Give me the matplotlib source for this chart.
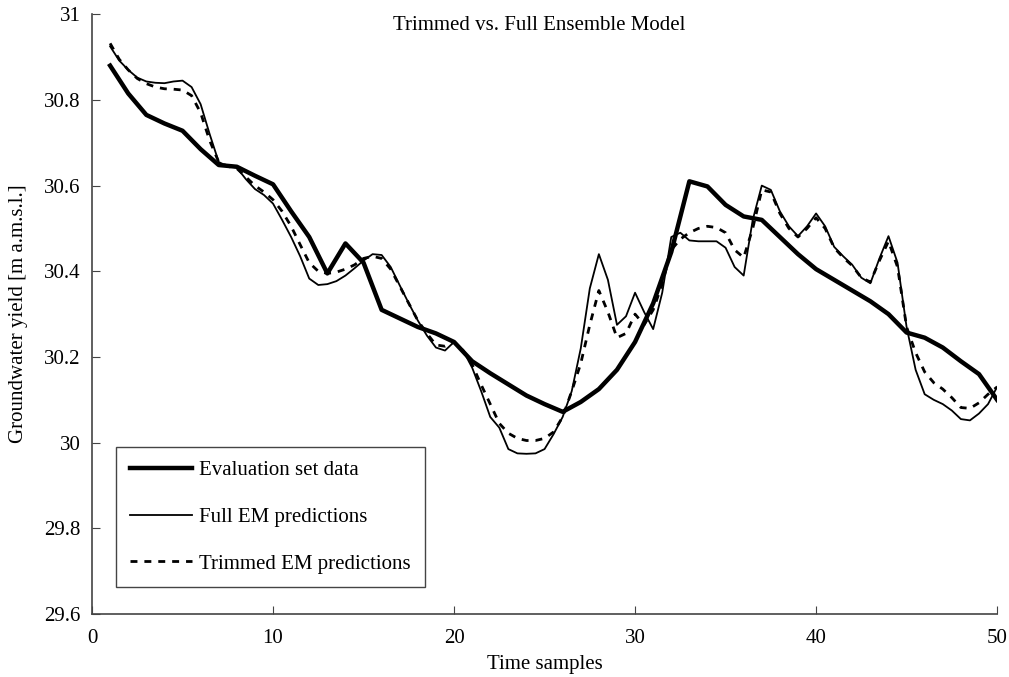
import numpy as np
import matplotlib.pyplot as plt
from matplotlib.ticker import FuncFormatter

plt.rcParams['font.family'] = 'Liberation Serif'

# evaluation set data, one value per time sample
eval_x = list(range(1, 51))
eval_y = [30.88, 30.815, 30.765, 30.745, 30.728, 30.685, 30.648, 30.644, 30.623, 30.603,
          30.54, 30.48, 30.395, 30.465, 30.42, 30.31, 30.29, 30.27, 30.255, 30.235,
          30.19, 30.162, 30.136, 30.11, 30.09, 30.072, 30.095, 30.125, 30.17, 30.235,
          30.325, 30.445, 30.61, 30.598, 30.555, 30.528, 30.52, 30.48, 30.44, 30.405,
          30.38, 30.355, 30.33, 30.30, 30.257, 30.245, 30.222, 30.19, 30.16, 30.10]

# model predictions read at half-sample steps
pred_x = [1 + 0.5 * i for i in range(99)]
full_y = [30.925, 30.892, 30.87, 30.852, 30.843, 30.840, 30.839, 30.843, 30.845, 30.83,
          30.79, 30.72, 30.655, 30.645, 30.642, 30.615, 30.592, 30.578, 30.558, 30.52,
          30.48, 30.435, 30.383, 30.368, 30.37, 30.377, 30.39, 30.407, 30.425, 30.44,
          30.438, 30.41, 30.367, 30.325, 30.285, 30.25, 30.222, 30.215, 30.235, 30.215,
          30.175, 30.12, 30.06, 30.035, 29.985, 29.975, 29.974, 29.975, 29.985, 30.02,
          30.06, 30.12, 30.22, 30.36, 30.44, 30.38, 30.275, 30.295, 30.35, 30.305,
          30.265, 30.35, 30.48, 30.49, 30.472, 30.47, 30.47, 30.47, 30.455, 30.41,
          30.39, 30.52, 30.60, 30.59, 30.54, 30.505, 30.482, 30.505, 30.535, 30.505,
          30.457, 30.435, 30.415, 30.385, 30.372, 30.43, 30.482, 30.42, 30.27, 30.17,
          30.113, 30.10, 30.09, 30.075, 30.055, 30.052, 30.068, 30.09, 30.13]
trim_y = [30.932, 30.895, 30.87, 30.85, 30.838, 30.83, 30.826, 30.825, 30.823, 30.81,
          30.77, 30.705, 30.655, 30.645, 30.64, 30.62, 30.60, 30.585, 30.567, 30.54,
          30.505, 30.462, 30.42, 30.40, 30.395, 30.398, 30.405, 30.415, 30.43, 30.435,
          30.43, 30.405, 30.365, 30.325, 30.285, 30.255, 30.228, 30.225, 30.235, 30.215,
          30.182, 30.135, 30.09, 30.045, 30.022, 30.01, 30.005, 30.005, 30.01, 30.025,
          30.06, 30.12, 30.185, 30.275, 30.355, 30.305, 30.245, 30.255, 30.30, 30.275,
          30.31, 30.37, 30.45, 30.475, 30.49, 30.50, 30.505, 30.502, 30.49, 30.45,
          30.432, 30.50, 30.59, 30.585, 30.535, 30.50, 30.48, 30.50, 30.525, 30.50,
          30.455, 30.432, 30.413, 30.385, 30.375, 30.425, 30.47, 30.41, 30.27, 30.21,
          30.165, 30.14, 30.125, 30.105, 30.082, 30.08, 30.093, 30.113, 30.13]

labels = ["Evaluation set data", "Full EM predictions", "Trimmed EM predictions"]

fig = plt.figure(figsize=(10.09, 6.77), dpi=100)
ax = fig.add_axes([0.0912, 0.093, 0.897, 0.886])

ax.plot(eval_x, eval_y, color='black', lw=3.2, label=labels[0])
ax.plot(pred_x, full_y, color='black', lw=1.3, label=labels[1])
ax.plot(pred_x, trim_y, color='black', lw=2.0, ls=(0, (2.5, 2.5)), label=labels[2])

ax.set_xlim(0, 50)
ax.set_ylim(29.6, 31)
ax.set_xticks(range(0, 51, 10))
ax.set_yticks(np.arange(29.6, 31.01, 0.2))
ax.yaxis.set_major_formatter(FuncFormatter(lambda v, p: f"{v:.1f}".rstrip('0').rstrip('.')))

for s in ['top', 'right']:
    ax.spines[s].set_visible(False)
for s in ['left', 'bottom']:
    ax.spines[s].set_color('#444444')
    ax.spines[s].set_linewidth(1.2)
ax.tick_params(direction='in', length=6, labelsize=15, color='#444444')
ax.tick_params(axis='x', pad=11)
ax.tick_params(axis='y', pad=8)

ax.text(0.494, 0.997, "Trimmed vs. Full Ensemble Model", transform=ax.transAxes,
        ha='center', va='top', fontsize=15)
ax.set_xlabel("Time samples", fontsize=15, labelpad=5)
ax.set_ylabel("Groundwater yield [m a.m.s.l.]", fontsize=15, labelpad=12)

leg = ax.legend(loc='lower left', bbox_to_anchor=(0.0265, 0.045), borderaxespad=0,
                fontsize=15, handlelength=3.0, labelspacing=1.3, borderpad=0.65,
                fancybox=False, framealpha=1, edgecolor='#444444', handletextpad=0.35)
leg.get_frame().set_linewidth(1.0)

plt.savefig("out.png", dpi=100)
